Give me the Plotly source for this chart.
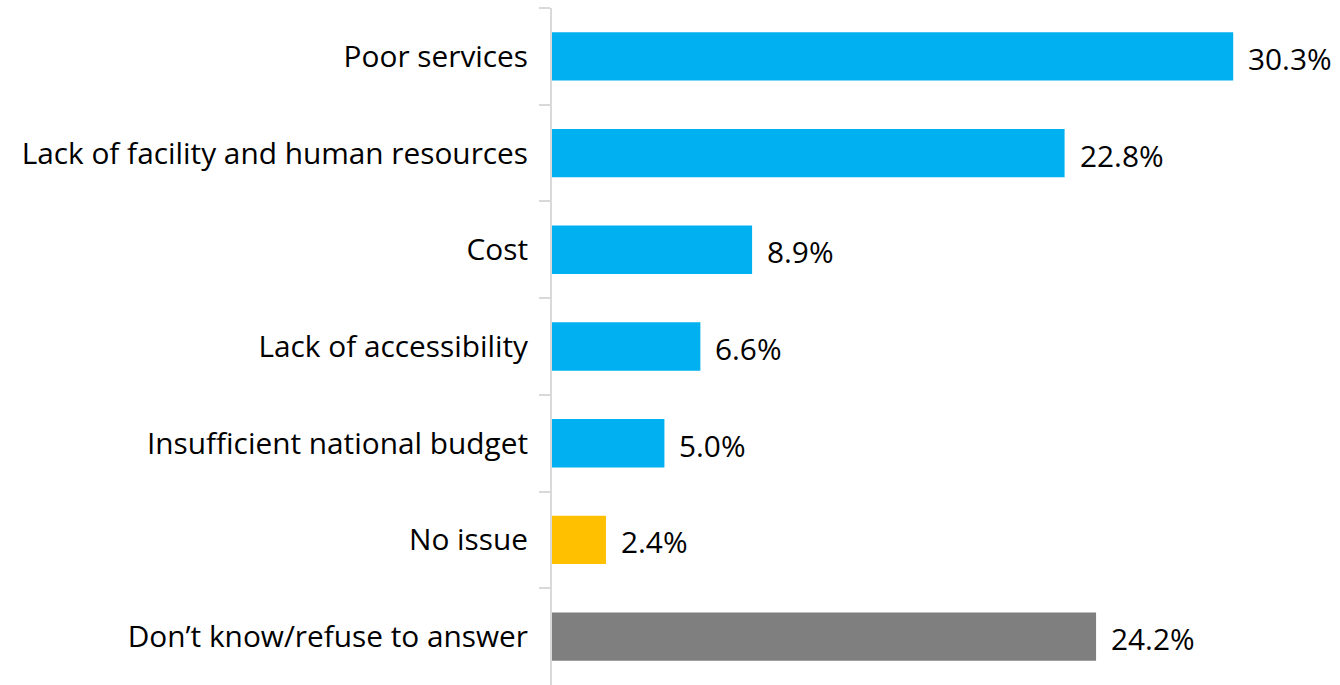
import plotly.graph_objects as go

# Survey responses: main issues with services
categories = [
    "Poor services",
    "Lack of facility and human resources",
    "Cost",
    "Lack of accessibility",
    "Insufficient national budget",
    "No issue",
    "Don’t know/refuse to answer",
]
values = [30.3, 22.8, 8.9, 6.6, 5.0, 2.4, 24.2]
colors = ["#00B0F0"] * 5 + ["#FFC000", "#7F7F7F"]

FONT = "Open Sans, Noto Sans, sans-serif"
FONT_SIZE = 29.8

fig = go.Figure(
    go.Bar(
        x=values,
        y=categories,
        orientation="h",
        marker=dict(color=colors, line=dict(width=0)),
        width=0.5,
        hoverinfo="skip",
    )
)

# value labels just past the end of each bar
for cat, val in zip(categories, values):
    fig.add_annotation(
        x=val, y=cat, text=f"{val:.1f}%", showarrow=False,
        xanchor="left", yanchor="middle", xshift=13, yshift=-2,
        font=dict(family=FONT, size=FONT_SIZE, color="#000000"),
    )

fig.update_layout(
    width=1340, height=685,
    margin=dict(l=552, r=0, t=8, b=0),
    paper_bgcolor="white", plot_bgcolor="white",
    showlegend=False,
    bargap=0.5,
)
fig.update_xaxes(
    range=[0, 35.05], visible=False, showgrid=False, zeroline=False,
)
fig.update_yaxes(
    autorange="reversed",
    showline=True, linecolor="#D9D9D9", linewidth=2,
    ticks="outside", tickson="boundaries", ticklen=11, tickcolor="#D9D9D9", tickwidth=2,
    showgrid=False, zeroline=False,
    tickfont=dict(family=FONT, size=FONT_SIZE, color="#000000"),
    ticklabelstandoff=16,
)

fig.write_html("out.html")
